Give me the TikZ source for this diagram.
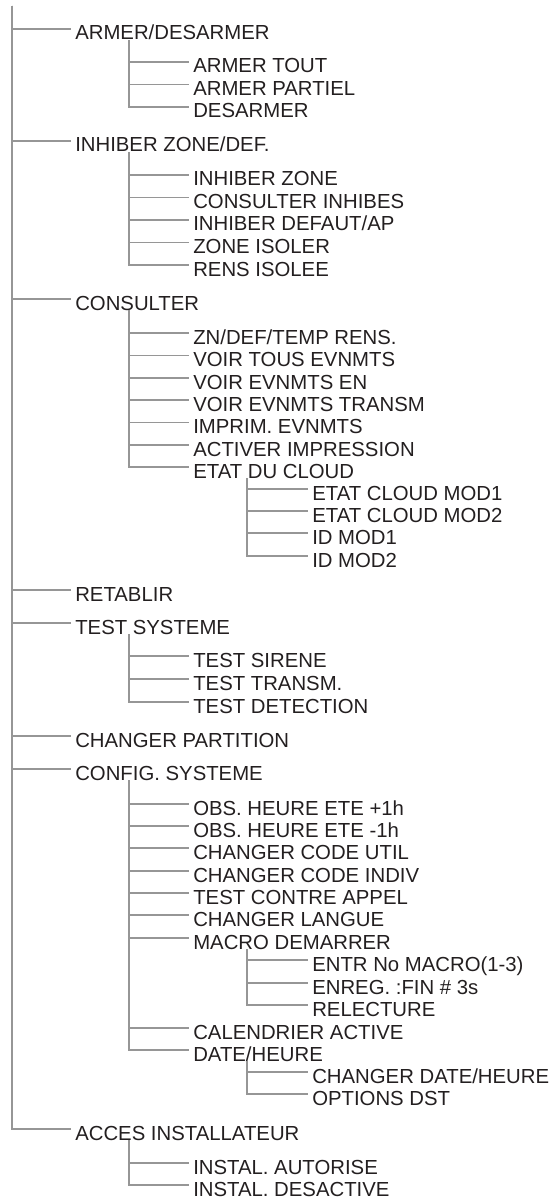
\documentclass[tikz,border=0pt]{standalone}
\usepackage{fontspec}
\setmainfont{Liberation Sans}
\definecolor{linegray}{RGB}{150,150,150}
\definecolor{textcol}{RGB}{35,31,32}
\begin{document}
\begin{tikzpicture}[x=0.75pt,y=-0.75pt,
  item/.style={anchor=west,inner sep=0pt,text height=16.5pt,text depth=0pt,font=\fontsize{15.25}{18}\selectfont,text=textcol},
  conn/.style={draw=linegray,line width=1.45pt,shorten >=3pt},
  trunkline/.style={draw=linegray,line width=1.8pt}]
\useasboundingbox (0,0) rectangle (553,1198);
% level 1
\node[item] (a) at (75,29) {ARMER/DESARMER};
\node[item] (b) at (75,141) {INHIBER ZONE/DEF.};
\node[item] (c) at (75,299) {CONSULTER};
\node[item] (d) at (75,590) {RETABLIR};
\node[item] (e) at (75,623) {TEST SYSTEME};
\node[item] (f) at (75,736) {CHANGER PARTITION};
\node[item] (g) at (75,769) {CONFIG. SYSTEME};
\node[item] (h) at (75,1129) {ACCES INSTALLATEUR};
% level 2
\node[item] (a1) at (193,62) {ARMER TOUT};
\node[item] (a2) at (193,84.5) {ARMER PARTIEL};
\node[item] (a3) at (193,107) {DESARMER};
\node[item] (b1) at (193,175) {INHIBER ZONE};
\node[item] (b2) at (193,197.5) {CONSULTER INHIBES};
\node[item] (b3) at (193,220) {INHIBER DEFAUT/AP};
\node[item] (b4) at (193,242.5) {ZONE ISOLER};
\node[item] (b5) at (193,265) {RENS ISOLEE};
\node[item] (c1) at (193,333) {ZN/DEF/TEMP RENS.};
\node[item] (c2) at (193,355.5) {VOIR TOUS EVNMTS};
\node[item] (c3) at (193,378) {VOIR EVNMTS EN};
\node[item] (c4) at (193,400) {VOIR EVNMTS TRANSM};
\node[item] (c5) at (193,422.5) {IMPRIM. EVNMTS};
\node[item] (c6) at (193,445) {ACTIVER IMPRESSION};
\node[item] (c7) at (193,467) {ETAT DU CLOUD};
\node[item] (e1) at (193,656) {TEST SIRENE};
\node[item] (e2) at (193,679) {TEST TRANSM.};
\node[item] (e3) at (193,702) {TEST DETECTION};
\node[item] (g1) at (193,804) {OBS. HEURE ETE +1h};
\node[item] (g2) at (193,826) {OBS. HEURE ETE -1h};
\node[item] (g3) at (193,848) {CHANGER CODE UTIL};
\node[item] (g4) at (193,871) {CHANGER CODE INDIV};
\node[item] (g5) at (193,893) {TEST CONTRE APPEL};
\node[item] (g6) at (193,915) {CHANGER LANGUE};
\node[item] (g7) at (193,938) {MACRO DEMARRER};
\node[item] (g8) at (193,1028) {CALENDRIER ACTIVE};
\node[item] (g9) at (193,1050) {DATE/HEURE};
\node[item] (h1) at (193,1163) {INSTAL. AUTORISE};
\node[item] (h2) at (193,1185) {INSTAL. DESACTIVE};
% level 3
\node[item] (c71) at (312,489) {ETAT CLOUD MOD1};
\node[item] (c72) at (312,511) {ETAT CLOUD MOD2};
\node[item] (c73) at (312,533) {ID MOD1};
\node[item] (c74) at (312,556) {ID MOD2};
\node[item] (g71) at (312,960) {ENTR No MACRO(1-3)};
\node[item] (g72) at (312,983) {ENREG. :FIN \# 3s};
\node[item] (g73) at (312,1005) {RELECTURE};
\node[item] (g91) at (312,1072) {CHANGER DATE/HEURE};
\node[item] (g92) at (312,1094) {OPTIONS DST};
% trunk
\coordinate (top) at (11.7,6);
\draw[trunkline] (top) -- (top |- h.west);
\foreach \c in {a,b,c,d,e,f,g,h}
  \draw[conn] (top) |- (\c.west);
% branches
\foreach \p/\c in {a/a1,a/a2,a/a3,b/b1,b/b2,b/b3,b/b4,b/b5,
  c/c1,c/c2,c/c3,c/c4,c/c5,c/c6,c/c7,c7/c71,c7/c72,c7/c73,c7/c74,
  e/e1,e/e2,e/e3,g/g1,g/g2,g/g3,g/g4,g/g5,g/g6,g/g7,g/g8,g/g9,
  g7/g71,g7/g72,g7/g73,g9/g91,g9/g92,h/h1,h/h2}
  \draw[conn] ([xshift=40.8pt]\p.south west) |- (\c.west);
\end{tikzpicture}
\end{document}
